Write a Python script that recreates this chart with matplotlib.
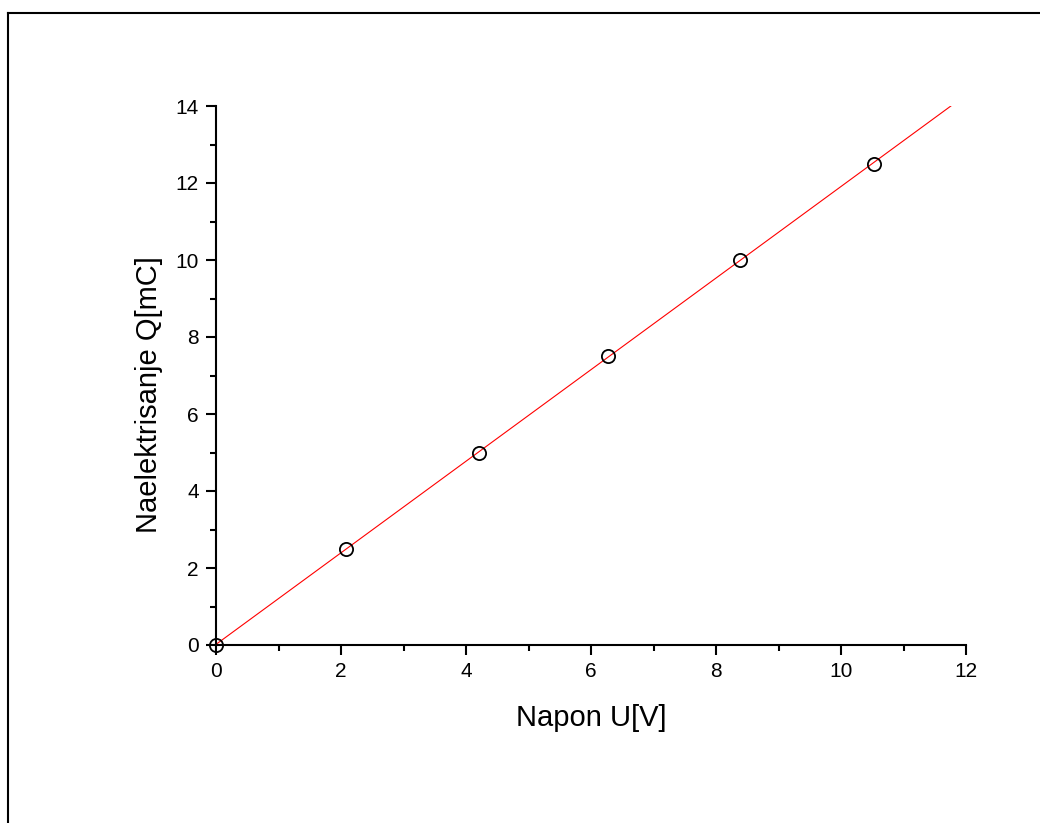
import numpy as np
import matplotlib.pyplot as plt
from matplotlib.lines import Line2D

plt.rcParams['font.family'] = ['Liberation Sans', 'DejaVu Sans']

# Measured data
napon = [0.0, 2.08, 4.2, 6.27, 8.38, 10.52]     # U [V]
naboj = [0.0, 2.5, 5.0, 7.5, 10.0, 12.5]        # Q [mC]

# Linear fit through the points, drawn up to the top of the y range
k, n = np.polyfit(napon, naboj, 1)
x_fit = np.array([0.0, (14 - n) / k])
y_fit = k * x_fit + n

fig = plt.figure(figsize=(10.4, 8.23), dpi=100)
ax = fig.add_axes([216 / 1040, 1 - 645 / 823, 750 / 1040, 539 / 823])

ax.plot(x_fit, y_fit, color='red', lw=0.8, zorder=2)
ax.plot(napon, naboj, 'o', mfc='none', mec='black', ms=9.5, mew=1.3,
        clip_on=False, zorder=3)

ax.set_xlim(0, 12)
ax.set_ylim(0, 14)
ax.set_xticks(np.arange(0, 13, 2))
ax.set_yticks(np.arange(0, 15, 2))
ax.set_xticks(np.arange(1, 12, 2), minor=True)
ax.set_yticks(np.arange(1, 14, 2), minor=True)
ax.spines['top'].set_visible(False)
ax.spines['right'].set_visible(False)
ax.spines['left'].set_linewidth(1.5)
ax.spines['bottom'].set_linewidth(1.5)
ax.tick_params(which='major', direction='out', length=7.5, width=1.5,
               labelsize=15, pad=5)
ax.tick_params(which='minor', direction='out', length=4, width=1.5)

ax.set_xlabel('Napon U[V]', fontsize=21, labelpad=16)
ax.set_ylabel('Naelektrisanje Q[mC]', fontsize=21, labelpad=8.5)
ax.yaxis.label.set_y(0.464)  # label sits a bit below the axis centre

# outer frame (left and top edges)
fig.add_artist(Line2D([8 / 1040, 8 / 1040], [0, 1 - 13 / 823],
                      transform=fig.transFigure, color='black', lw=1.5))
fig.add_artist(Line2D([8 / 1040, 1], [1 - 13 / 823, 1 - 13 / 823],
                      transform=fig.transFigure, color='black', lw=1.5))

fig.savefig('out.png', dpi=100)
